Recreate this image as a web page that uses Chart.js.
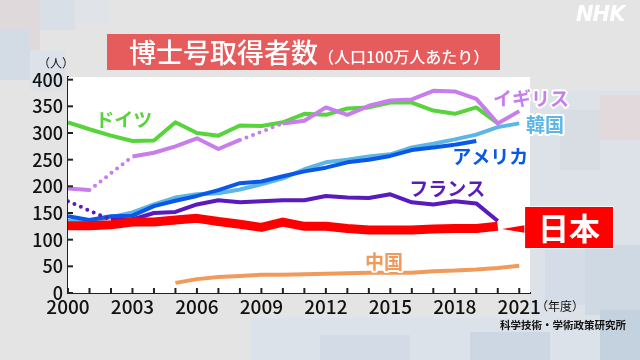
<!DOCTYPE html>
<html lang="ja">
<head>
<meta charset="UTF-8">
<title>博士号取得者数（人口100万人あたり）</title>
<script src="https://cdn.jsdelivr.net/npm/chart.js"></script>
<style>
  html, body { margin: 0; padding: 0; }
  body {
    width: 640px; height: 360px; overflow: hidden; position: relative;
    background: #e4e4e4;
    font-family: "Noto Sans CJK JP", "Noto Sans", sans-serif;
  }
  .tile { position: absolute; }
  #chartWrap { position: absolute; left: 0; top: 0; width: 640px; height: 360px; }
  .title {
    position: absolute; left: 107px; top: 34px; width: 393px; height: 36px;
    background: #e65b5b; color: #fff; white-space: nowrap;
    box-sizing: border-box; padding-left: 22px; line-height: 36px;
  }
  .title .big { font-size: 27px; font-weight: 500; }
  .title .small { font-size: 16px; font-weight: 500; }
  .unit { position: absolute; left: 38px; top: 54px; font-size: 12px; color: #111; }
  .year { position: absolute; left: 536px; top: 297px; font-size: 12px; color: #111; }
  .source { position: absolute; left: 500px; top: 317px; font-size: 10.5px; font-weight: 700; color: #111; }
  .logo {
    position: absolute; left: 576px; top: 2px; font-family: "DejaVu Sans", sans-serif;
    font-size: 21px; font-weight: 700; font-style: italic; color: #fff; letter-spacing: -1px;
  }
</style>
</head>
<body>
  <!-- background mosaic -->
  <div class="tile" style="left:0;top:0;width:40px;height:60px;background:#dfd9dc"></div>
  <div class="tile" style="left:40px;top:0;width:35px;height:30px;background:#d9dfe6"></div>
  <div class="tile" style="left:0;top:30px;width:30px;height:50px;background:#d3dbe4"></div>
  <div class="tile" style="left:30px;top:50px;width:35px;height:40px;background:#dde2e8"></div>
  <div class="tile" style="left:75px;top:0;width:35px;height:25px;background:#e0e4e9"></div>
  <div class="tile" style="left:530px;top:90px;width:110px;height:270px;background:#dde2e8"></div>
  <div class="tile" style="left:560px;top:110px;width:40px;height:60px;background:#d8dde3"></div>
  <div class="tile" style="left:600px;top:95px;width:40px;height:45px;background:#e2d9dc"></div>
  <div class="tile" style="left:545px;top:250px;width:40px;height:55px;background:#d4dde7"></div>
  <div class="tile" style="left:585px;top:245px;width:55px;height:70px;background:#cfd9e4"></div>
  <div class="tile" style="left:600px;top:310px;width:40px;height:50px;background:#c4d1df"></div>
  <div class="tile" style="left:250px;top:318px;width:350px;height:42px;background:#dbe2e9"></div>
  <div class="tile" style="left:320px;top:335px;width:90px;height:25px;background:#d2dbe6"></div>
  <div class="tile" style="left:470px;top:332px;width:80px;height:28px;background:#ccd7e3"></div>

  <div id="chartWrap"><canvas id="chart" width="640" height="360"></canvas></div>

  <div class="title"><span class="big">博士号取得者数</span><span class="small">（人口100万人あたり）</span></div>
  <div class="unit">（人）</div>
  <div class="year">（年度）</div>
  <div class="source">科学技術・学術政策研究所</div>
  <div class="logo">NHK</div>

<script>
  // data (per 1M population)
  const years = [2000, 2001, 2002, 2003, 2004, 2005, 2006, 2007, 2008, 2009, 2010,
                 2011, 2012, 2013, 2014, 2015, 2016, 2017, 2018, 2019, 2020, 2021];
  const germany = [320, 307, 295, 285, 286, 320, 300, 295, 314, 313, 320, 336, 334, 346, 348, 357, 357, 342, 336, 348, 318, null];
  const uk      = [196, 193, null, 256, 263, 275, 290, 270, 287, null, 318, 323, 348, 334, 351, 361, 363, 379, 378, 364, 318, 341];
  const korea   = [135, 134, 142, 151, 166, 179, 185, 187, 194, 204, 215, 232, 245, 250, 256, 260, 273, 280, 288, 297, 311, 318];
  const usa     = [144, 137, 144, 145, 163, 173, 182, 193, 206, 209, 219, 228, 235, 245, 250, 257, 268, 273, 278, 285, null, null];
  const france  = [172, null, 137, 138, 150, 152, 166, 174, 170, 172, 174, 174, 182, 179, 178, 185, 170, 166, 172, 168, 135, null];
  const japan   = [126, 126, 128, 133, 133, 137, 140, 134, 129, 123, 133, 125, 125, 121, 118, 118, 118, 120, 121, 121, 125, null];
  const china   = [null, null, null, null, null, 19, 26, 30, 32, 34, 34, 35, 36, 37, 38, 38, 38, 41, 42, 44, 47, 51];

  const xTickLabels = ['2000', '2003', '2006', '2009', '2012', '2015', '2018', '2021'];
  const yTicks = [0, 50, 100, 150, 200, 250, 300, 350, 400];

  const toPoints = arr => arr.map((v, i) => ({ x: years[i], y: v }));

  // dotted segment across a missing year
  function gapSegment(values) {
    const isGap = ctx => ctx.p0.skip || ctx.p1.skip ||
      values[ctx.p0DataIndex] == null || values[ctx.p1DataIndex] == null ||
      ctx.p1DataIndex - ctx.p0DataIndex > 1;
    return {
      borderDash: ctx => (isGap(ctx) ? [0, 7] : undefined),
      borderCapStyle: ctx => (isGap(ctx) ? 'round' : undefined)
    };
  }

  const series = [
    { label: '日本',   data: japan,   color: '#ff0000', width: 9 },
    { label: 'フランス', data: france, color: '#5a1bbd', width: 4 },
    { label: 'アメリカ', data: usa,    color: '#0a58e8', width: 4 },
    { label: '韓国',   data: korea,   color: '#5cb6e6', width: 4 },
    { label: 'イギリス', data: uk,     color: '#c77deb', width: 4 },
    { label: 'ドイツ',  data: germany, color: '#57d43c', width: 4 },
    { label: '中国',   data: china,   color: '#f09a5c', width: 4 }
  ];

  // where the name tags sit (in axis units)
  const tags = [
    { text: 'ドイツ',  color: '#57d43c', x: 2002.6, y: 325 },
    { text: 'イギリス', color: '#c77deb', x: 2021.55, y: 364 },
    { text: '韓国',    color: '#5cb6e6', x: 2022.2, y: 316 },
    { text: 'アメリカ', color: '#0a58e8', x: 2019.65, y: 256 },
    { text: 'フランス', color: '#5a1bbd', x: 2017.65, y: 195 },
    { text: '中国',    color: '#f09a5c', x: 2014.7, y: 58 }
  ];
  const japanTag = { x: 2020.2, y: 120 };

  const FONT = '"Noto Sans CJK JP", "Noto Sans", sans-serif';

  const decor = {
    id: 'decor',
    beforeDatasetsDraw(chart) {
      const { ctx, chartArea: a } = chart;
      ctx.save();
      ctx.fillStyle = '#ffffff';
      ctx.fillRect(a.left, a.top, a.right - a.left, a.bottom - a.top);
      ctx.restore();
    },
    afterDatasetsDraw(chart) {
      const { ctx, chartArea: a, scales: { x, y } } = chart;
      ctx.save();
      // inward tick marks
      ctx.strokeStyle = '#222';
      ctx.lineWidth = 2;
      years.forEach(v => {
        const px = x.getPixelForValue(v);
        ctx.beginPath(); ctx.moveTo(px, a.bottom); ctx.lineTo(px, a.bottom - 5); ctx.stroke();
      });
      yTicks.forEach(v => {
        const py = y.getPixelForValue(v);
        ctx.beginPath(); ctx.moveTo(a.left, py); ctx.lineTo(a.left + 5, py); ctx.stroke();
      });

      // series names
      ctx.font = '700 19px ' + FONT;
      ctx.textAlign = 'center';
      ctx.textBaseline = 'middle';
      ctx.lineJoin = 'round';
      tags.forEach(t => {
        const px = x.getPixelForValue(t.x), py = y.getPixelForValue(t.y);
        ctx.strokeStyle = '#ffffff';
        ctx.lineWidth = 4;
        ctx.strokeText(t.text, px, py);
        ctx.fillStyle = t.color;
        ctx.fillText(t.text, px, py);
      });

      // 日本 callout
      const tx = x.getPixelForValue(japanTag.x), ty = y.getPixelForValue(japanTag.y);
      const bx = tx + 23, by = ty - 22, bw = 88, bh = 41;
      ctx.fillStyle = '#ff0000';
      ctx.beginPath();
      ctx.moveTo(tx, ty);
      ctx.lineTo(bx + 1, ty - 4);
      ctx.lineTo(bx + 1, ty + 4);
      ctx.closePath();
      ctx.fill();
      ctx.fillRect(bx, by, bw, bh);
      ctx.strokeStyle = 'rgba(255,255,255,0.7)';
      ctx.lineWidth = 1;
      ctx.strokeRect(bx - 0.5, by - 0.5, bw + 1, bh + 1);
      ctx.fillStyle = '#ffffff';
      ctx.font = '700 31px ' + FONT;
      ctx.fillText('日本', bx + bw / 2, by + bh / 2 + 1);
      ctx.restore();
    }
  };

  new Chart(document.getElementById('chart'), {
    type: 'line',
    data: {
      datasets: series.map(s => ({
        label: s.label,
        data: toPoints(s.data),
        borderColor: s.color,
        backgroundColor: s.color,
        borderWidth: s.width,
        borderJoinStyle: 'round',
        pointRadius: 0,
        tension: 0,
        spanGaps: true,
        segment: gapSegment(s.data)
      }))
    },
    options: {
      responsive: false,
      animation: false,
      events: [],
      layout: { padding: { left: 0, right: 110, top: 77, bottom: 0 } },
      plugins: { legend: { display: false }, tooltip: { enabled: false } },
      scales: {
        x: {
          type: 'linear',
          min: 2000,
          max: 2021.5,
          afterBuildTicks: s => { s.ticks = years.map(v => ({ value: v })); },
          afterFit: s => { s.height = 67; },
          grid: { display: false, drawTicks: false },
          border: { color: '#222', width: 2 },
          ticks: {
            autoSkip: false,
            maxRotation: 0,
            padding: 2,
            color: '#111',
            font: { family: FONT, size: 19, weight: '500' },
            callback: v => (xTickLabels.includes(String(v)) ? String(v) : '')
          }
        },
        y: {
          min: 0,
          max: 405,
          afterBuildTicks: s => { s.ticks = yTicks.map(v => ({ value: v })); },
          afterFit: s => { s.width = 68; },
          grid: { display: false, drawTicks: false },
          border: { color: '#222', width: 2 },
          ticks: {
            padding: 5,
            color: '#111',
            font: { family: FONT, size: 18, weight: '500' }
          }
        }
      }
    },
    plugins: [decor]
  });
</script>
</body>
</html>
